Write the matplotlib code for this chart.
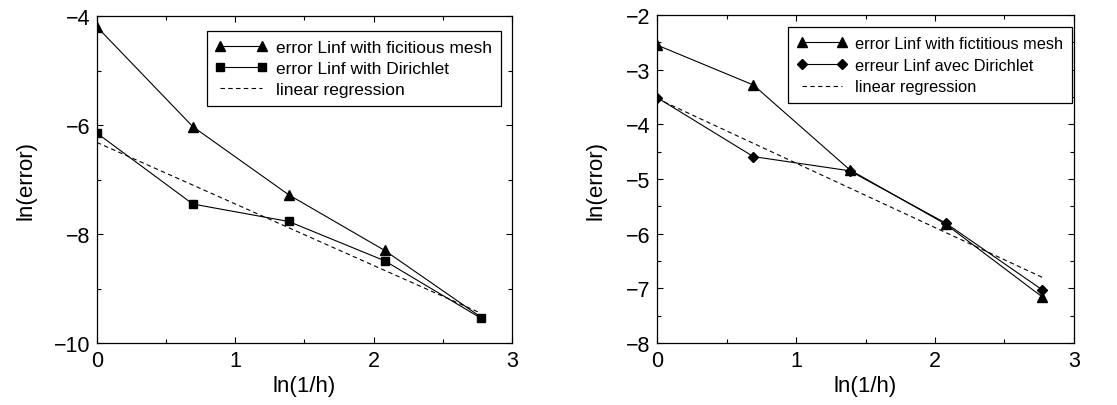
import matplotlib.pyplot as plt
from matplotlib.ticker import MultipleLocator

plt.rcParams['font.family'] = ['Liberation Sans', 'DejaVu Sans']

# ln(1/h) for h = 1, 1/2, 1/4, 1/8, 1/16
x = [0.0, 0.693, 1.386, 2.079, 2.773]

# left panel
left_fict = [-4.2, -6.03, -7.28, -8.30, -9.52]
left_dir = [-6.15, -7.45, -7.77, -8.49, -9.54]
left_reg_x = [0.0, 2.773]
left_reg_y = [-6.32, -9.45]

# right panel
right_fict = [-2.55, -3.28, -4.83, -5.83, -7.16]
right_dir = [-3.51, -4.59, -4.85, -5.81, -7.03]
right_reg_x = [0.0, 2.773]
right_reg_y = [-3.53, -6.80]


def style_axes(ax, ymin, ymax, ymajor, yminor, ypad):
    ax.set_xlim(0, 3)
    ax.set_ylim(ymin, ymax)
    ax.xaxis.set_major_locator(MultipleLocator(1))
    ax.xaxis.set_minor_locator(MultipleLocator(0.5))
    ax.yaxis.set_major_locator(MultipleLocator(ymajor))
    ax.yaxis.set_minor_locator(MultipleLocator(yminor))
    ax.tick_params(which='both', direction='in', top=True, right=True,
                   width=0.8, labelsize=15.5, pad=5)
    ax.tick_params(which='major', length=4)
    ax.tick_params(which='minor', length=3)
    for s in ax.spines.values():
        s.set_linewidth(0.9)
    ax.set_xlabel('ln(1/h)', fontsize=16, labelpad=3)
    ax.set_ylabel('ln(error)', fontsize=16, labelpad=ypad)


fig = plt.figure(figsize=(11.17, 4.06), dpi=100)
ax1 = fig.add_axes([0.0868, 0.1527, 0.3715, 0.8054])
ax2 = fig.add_axes([0.5882, 0.1527, 0.3733, 0.8079])

# last triangle sits under the last square in the reference
ax1.plot(x, left_fict, 'k-^', lw=0.8, ms=7, markevery=[0, 1, 2, 3],
         label='error Linf with ficitious mesh')
ax1.plot(x, left_dir, 'k-s', lw=0.8, ms=6, label='error Linf with Dirichlet')
ax1.plot(left_reg_x, left_reg_y, 'k--', lw=0.8, dashes=(4, 3), label='linear regression')
style_axes(ax1, -10, -4, 2, 1, 12)
leg1 = ax1.legend(loc='upper right', bbox_to_anchor=(0.973, 0.954), numpoints=2,
                  handlelength=3.0, fontsize=12.5, fancybox=False, edgecolor='black',
                  framealpha=1, borderpad=0.5, labelspacing=0.35, borderaxespad=0,
                  handletextpad=0.5)
leg1.get_frame().set_linewidth(0.9)

ax2.plot(x, right_fict, 'k-^', lw=0.8, ms=7, label='error Linf with fictitious mesh')
ax2.plot(x, right_dir, 'k-D', lw=0.8, ms=5.5, label='erreur Linf avec Dirichlet')
ax2.plot(right_reg_x, right_reg_y, 'k--', lw=0.8, dashes=(4, 3), label='linear regression')
style_axes(ax2, -8, -2, 1, 0.5, 14)
leg2 = ax2.legend(loc='upper right', bbox_to_anchor=(0.995, 0.963), numpoints=2,
                  handlelength=3.0, fontsize=11.8, fancybox=False, edgecolor='black',
                  framealpha=1, borderpad=0.55, labelspacing=0.4, borderaxespad=0,
                  handletextpad=0.5)
leg2.get_frame().set_linewidth(0.9)

fig.savefig('out.png', dpi=100)
